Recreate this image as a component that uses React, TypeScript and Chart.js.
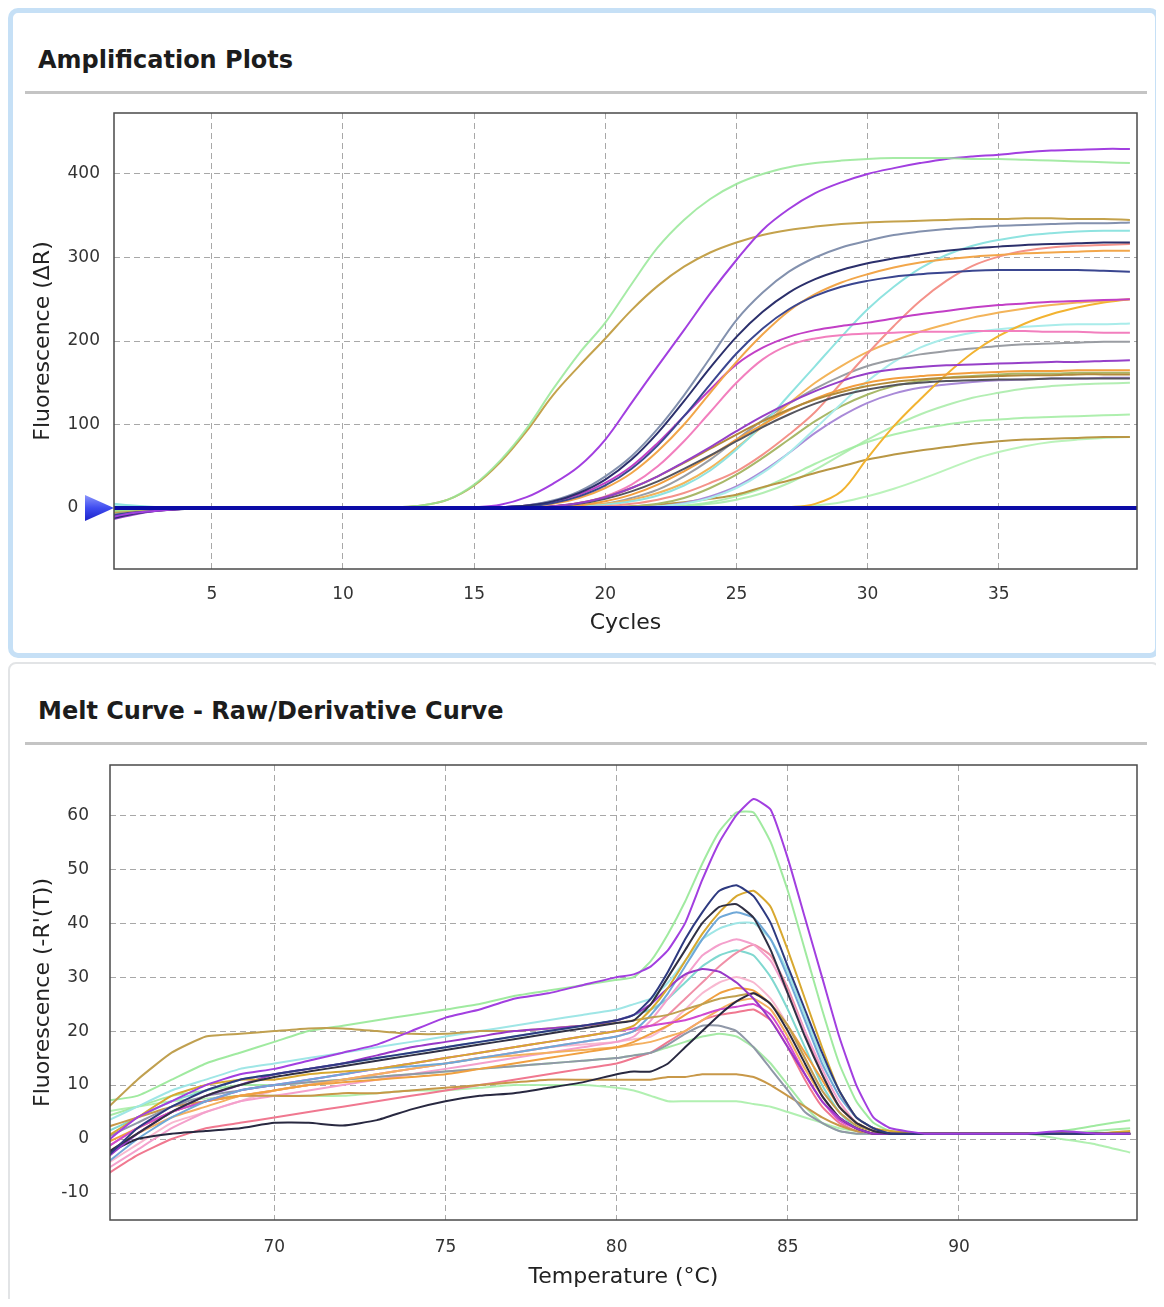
import React, { useEffect, useRef } from "react";
import { Chart, registerables } from "chart.js";
Chart.register(...registerables);

const FONT = "'DejaVu Sans', Verdana, sans-serif";

// ---------- Amplification plot data ----------
const CYCLES = [1,2,3,4,5,6,7,8,9,10,11,12,13,14,15,16,17,18,19,20,21,22,23,24,25,26,27,28,29,30,31,32,33,34,35,36,37,38,39,40];
const AMP_X_TICKS = [5, 10, 15, 20, 25, 30, 35];
const AMP_Y_TICKS = [0, 100, 200, 300, 400];
const AMP_X_RANGE = [1.27, 40.27];
const AMP_Y_RANGE = [-73, 473];
const THRESHOLD = 0;

const amp01 = [-4,-2,-1,0,0,0,0,0,0,0, 0,1,3,10,28,57,95,142,185,222, 268,312,345,370,388,400,408,413,416,418, 419,419,419,418,418,417,416,415,414,413];
const amp02 = [-6,-3,-1,0,0,0,0,0,0,0, 0,1,3,10,27,55,92,135,170,203, 237,266,289,306,318,327,333,337,340,342, 343,344,345,346,346,347,347,346,346,345];
const amp03 = [-12,-6,-3,-1,0,0,0,0,0,0, 0,0,0,0,1,4,13,29,50,82, 126,170,213,257,297,333,358,377,390,400, 407,413,418,421,423,426,428,429,430,430];
const amp04 = [-8,-4,-2,-1,0,0,0,0,0,0, 0,0,0,0,0,1,3,9,20,38, 62,95,135,180,225,258,283,300,312,320, 327,331,334,336,338,339,340,341,341,342];
const amp05 = [-14,-7,-3,-1,0,0,0,0,0,0, 0,0,0,0,0,1,3,8,18,34, 58,90,128,168,205,235,258,274,285,293, 299,304,308,311,313,315,316,317,318,318];
const amp06 = [-10,-5,-2,-1,0,0,0,0,0,0, 0,0,0,0,0,1,2,6,14,27, 47,75,110,148,185,215,238,254,265,272, 277,280,282,284,285,285,285,285,284,283];
const amp07 = [-5,-2,-1,0,0,0,0,0,0,0, 0,0,0,0,0,0,2,5,12,24, 42,68,100,138,175,208,236,256,270,280, 288,294,298,301,303,305,306,307,308,308];
const amp08 = [6,3,1,0,0,0,0,0,0,0, 0,0,0,0,0,0,0,1,2,4, 8,15,27,45,70,100,135,170,205,238, 265,287,303,314,321,326,329,331,332,332];
const amp09 = [-9,-4,-2,-1,0,0,0,0,0,0, 0,0,0,0,0,0,0,0,1,2, 5,10,18,30,44,64,88,115,150,185, 218,248,272,290,301,308,312,314,315,316];
const amp10 = [-13,-6,-3,-1,0,0,0,0,0,0, 0,0,0,0,0,1,3,8,16,30, 50,78,110,142,172,192,205,213,218,222, 227,232,236,240,243,245,247,248,249,250];
const amp11 = [-7,-3,-1,0,0,0,0,0,0,0, 0,0,0,0,0,0,0,0,2,5, 10,18,30,48,72,98,125,150,170,187, 200,211,220,228,234,239,243,246,248,250];
const amp12 = [-4,-2,-1,0,0,0,0,0,0,0, 0,0,0,0,0,0,0,0,0,0, 0,0,0,0,0,0,1,5,20,60, 98,130,160,186,206,221,232,240,246,250];
const amp13 = [-11,-5,-2,-1,0,0,0,0,0,0, 0,0,0,0,0,0,0,2,6,14, 28,50,80,115,150,178,195,203,207,209, 210,211,211,212,212,212,211,211,210,210];
const amp14 = [-6,-3,-1,0,0,0,0,0,0,0, 0,0,0,0,0,0,0,0,2,5, 12,22,38,58,82,105,125,143,158,170, 178,184,188,191,194,196,197,198,199,199];
const amp15 = [4,2,1,0,0,0,0,0,0,0, 0,0,0,0,0,0,0,0,0,0, 0,2,5,12,24,42,66,95,125,152, 175,192,203,210,214,217,219,220,220,221];
const amp16 = [-15,-8,-3,-1,0,0,0,0,0,0, 0,0,0,0,0,0,0,2,6,13, 24,38,55,73,92,110,126,140,152,161, 166,169,171,172,173,174,175,175,176,177];
const amp17 = [-8,-4,-2,-1,0,0,0,0,0,0, 0,0,0,0,0,0,0,2,5,11, 20,32,47,63,80,97,112,125,135,142, 147,150,152,153,154,154,155,155,155,155];
const amp18 = [-5,-2,-1,0,0,0,0,0,0,0, 0,0,0,0,0,0,0,2,6,13, 24,38,54,71,88,104,118,130,139,146, 151,154,156,157,158,159,159,160,160,160];
const amp19 = [-10,-5,-2,-1,0,0,0,0,0,0, 0,0,0,0,0,0,0,0,3,8, 16,28,44,62,82,100,117,131,142,150, 155,158,160,162,163,164,164,165,165,165];
const amp20 = [-3,-1,0,0,0,0,0,0,0,0, 0,0,0,0,0,0,0,0,0,0, 2,5,12,24,40,60,82,104,122,136, 146,152,156,158,160,161,161,162,162,162];
const amp21 = [-12,-6,-2,-1,0,0,0,0,0,0, 0,0,0,0,0,0,0,0,0,0, 0,2,6,14,26,44,66,90,110,126, 137,144,148,151,153,154,155,155,156,156];
const amp22 = [2,1,0,0,0,0,0,0,0,0, 0,0,0,0,0,0,0,0,0,0, 0,1,3,7,14,24,38,53,67,79, 88,95,100,104,106,108,109,110,111,112];
const amp23 = [-7,-3,-1,0,0,0,0,0,0,0, 0,0,0,0,0,0,0,0,0,1, 2,4,7,11,16,25,33,42,50,58, 64,69,73,77,80,82,83,84,85,85];
const amp24 = [3,1,0,0,0,0,0,0,0,0, 0,0,0,0,0,0,0,0,0,0, 0,0,0,0,0,0,1,3,7,14, 23,34,46,58,67,74,79,82,84,85];
const amp25 = [1,0,0,0,0,0,0,0,0,0, 0,0,0,0,0,0,0,0,0,0, 0,0,2,5,10,18,30,46,64,82, 98,112,123,132,138,143,146,148,149,150];

const AMP_SERIES = [amp01, amp03, amp02, amp05, amp06, amp04, amp07, amp10, amp16, amp17, amp18, amp19, amp13, amp09, amp08, amp11, amp12, amp14, amp15, amp20, amp21, amp23, amp22, amp24, amp25];
const AMP_COLORS = [
  "rgba(150,232,150,0.85)", "#A23FE0", "#C4A24C", "#2B2F6B", "#3A4690", "#8391AE",
  "#F2A64A", "#C23FC6", "#9640C8", "#55555E", "#B38A3A", "#F29E3E", "#F27FBE",
  "#F4928A", "#8FE3E0", "#F3B45A", "#F2B330", "#9A9DA3", "#A9ECEA", "#A8B868",
  "#A98AD8", "#B99745", "rgba(160,236,160,0.85)", "rgba(170,240,170,0.8)", "rgba(160,234,160,0.8)",
];

// ---------- Melt curve data ----------
const MELT_TEMPS = [65,66,67,68,69,70,71,72,73,74,75,76,77,78,79,80, 80.5,81,81.5,82,82.5,83,83.5,84,84.5,85,85.5,86,86.5,87,87.5,88, 89,90,91,92,93,94,95];
const MELT_X_TICKS = [70, 75, 80, 85, 90];
const MELT_Y_TICKS = [-10, 0, 10, 20, 30, 40, 50, 60];
const MELT_X_RANGE = [65.2, 95.2];
const MELT_Y_RANGE = [-15, 69.3];

const melt01 = [-1,4,7,10,12,13,14.5,16,17.5,20,22.5,24,26,27,28.5,30, 30.5,32,35,40,48,55,60,63,61,52,41,30,19,10,4,2, 1,1,1,1,1.5,1,1];
const melt02 = [7,8,11,14,16,18,20,21,22,23,24,25,26.5,27.5,28.5,29.5, 30,33,38,44,51,57,60.5,60.5,55,46,35,24,14,7,3,1.5, 1,1,1,1,1.5,2.5,3.5];
const melt03 = [-4,2,6,9,11,12,13,14,15,16,17,18,19,20,21,22, 23,26,31,37,42,46,47,45,40,32,24,16,9,4,2,1, 1,1,1,1,1,1,1];
const melt04 = [0,4,8,10,11,11,12,12.5,13,14,15,16,17,18,19,20, 21,24,28,33,38,42,45,46,43,35,26,17,9,4,2,1.5, 1,1,1,1,1,1,1.5];
const melt05 = [-3,1,5,8,10,11.5,12.5,13.5,14.5,15.5,16.5,17.5,18.5,19.5,20.5,21.5, 22,25,30,35,40,43,43.5,41,35,27,19,12,6,3,1.5,1, 1,1,1,1,1,1,1];
const melt06 = [-5,0,4,7,9,10,11,12,13,13.5,14,15,16,17,18,19, 20,23,27,32,37,41,42,41,37,30,22,14,8,4,2,1, 1,1,1,1,1,1,1];
const melt07 = [3,6,9,11,13,14,15,16,17,18,19,20,21,22,23,24, 25,26,29,33,37,39,40,40,37,31,23,15,9,4,2,1, 1,1,1,1,1,1,1];
const melt08 = [-6,-2,2,5,7,8,9,10,11,12,13,14,15,16,17,18, 19,22,26,30,34,36,37,36,33,27,20,13,7,3,1.5,1, 1,1,1,1,1,1,1];
const melt09 = [-2,2,5,7,8,9,10,11,12,13,14,15,16,17,18,19, 20,21,23,26,29,32,34.5,36,34,28,20,12,6,3,1.5,1, 1,1,1,1,1,1,1];
const melt10 = [-4,1,5,8,10,12,13,14,15.5,17,18,19,20,20.5,21,22, 23,25,28,30.5,31.5,31,29,26,22,17,12,7,4,2,1,1, 1,1,1,1,1,1,1];
const melt11 = [-1,2,5,7,8,9,10,10.5,11,11.5,12,13,14,15,16,17, 18,19.5,21,23,25,27,28,27.5,25,21,16,11,6,3,1.5,1, 1,1,1,1,1,1,1];
const melt12 = [5,11,16,19,19.5,20,20.5,20.5,20,19.5,19.5,20,20,20.5,21,21.5, 22,22.5,23,24,25,26,26.5,27,25,21,15,9,5,2.5,1.5,1, 1,1,1,1,1,1,1];
const melt13 = [-3,0,1,1.5,2,3,3,2.5,3.5,5.5,7,8,8.5,9.5,10.5,12, 12.5,12.5,14,17,20,23,25.5,27,25,20,14,8,4,2,1,1, 1,1,1,1,1,1,1];
const melt14 = [-2,2,5,7,9,10,11,12,13,14,15,16,17,18,19,20, 20.5,21,21.5,22,23,24,24.5,25,23,18,12,7,3.5,2,1,1, 1,1,1,1,1,1,1];
const melt15 = [-7,-3,0,2,3,4,5,6,7,8,9,10,11,12,13,14, 15,16,18,20,22,23,23.5,24,22,17,11,6,3,1.5,1,1, 1,1,1,1,1,1,1];
const melt16 = [0,3,6,8,9,10,10.5,11,11.5,12,12.5,13,13.5,14,14.5,15, 15.5,16,17.5,19.5,21,21,20,17,13,9,5,3,1.5,1,1,1, 1,1,1,1,1,1,1];
const melt17 = [2,4,6,7,8,8,8,8.5,8.5,9,9.5,10,10.5,11,11,11, 11,11,11.5,11.5,12,12,12,11.5,10,8,6,4,2.5,1.5,1,1, 1,1,1,1,1,1,1];
const melt18 = [5,6,7,7.5,8,8,8,8,8.5,9,9,9.5,10,10,10,9.5, 9,8,7,7,7,7,7,6.5,6,5,4,3,2,1.5,1,1, 1,1,1,1,0,-1,-2.5];
const melt19 = [-3,1,4,6,8,9,10,11,12,13,14,15,15.5,16,16.5,17, 17.5,18,19,20,22,24,25.5,26,24,19,13,8,4,2,1,1, 1,1,1,1,1,1,1];
const melt20 = [4,6,8,9,10,10,10.5,11,11.5,12,12.5,13,13.5,14,14.5,15, 15.5,16,17,18,19,19.5,19,17,14,10,6,3,1.5,1,1,1, 1,1,1,1,1,1.5,2];
const melt21 = [1,4,7,9,11,12,13,14,15,16,17,18,19,20,21,22, 23,24,26,29,32,34,35,34,30,24,17,10,5,2,1,1, 1,1,1,1,1,1,1];
const melt22 = [-5,-1,3,5,7,9,10,11,12,13,14,15,16,17,17.5,18, 18.5,19,21,24,27,29,30,29,26,21,15,9,5,2,1,1, 1,1,1,1,1,1,1];

const MELT_SERIES = [melt01, melt03, melt05, melt04, melt10, melt13, melt12, melt06, melt14, melt11, melt19, melt16, melt17, melt08, melt09, melt15, melt21, melt07, melt22, melt02, melt20, melt18];
const MELT_COLORS = [
  "#A23FE0", "#2E3A80", "#303044", "#D8A830", "#9838C8", "#282840", "#C0A050",
  "#6FA8D8", "#D048D0", "#F0A040", "#F4B060", "#9098A8", "#C89848", "#F4A0CC",
  "#F090A8", "#F07890", "#80D8D0", "#9FE6E6", "#F8B8D0", "rgba(150,232,150,0.9)",
  "rgba(156,232,156,0.9)", "rgba(168,238,168,0.9)",
];

// ---------- plugin: plot frame + threshold marker ----------
const framePlugin = {
  id: "frame",
  afterDatasetsDraw(chart: any, _args: any, opts: any) {
    const { ctx, chartArea: a } = chart;
    ctx.save();
    if (opts && typeof opts.threshold === "number") {
      const y = chart.scales.y.getPixelForValue(opts.threshold);
      ctx.strokeStyle = "#0B0BA6";
      ctx.lineWidth = 4;
      ctx.beginPath();
      ctx.moveTo(a.left, y);
      ctx.lineTo(a.right, y);
      ctx.stroke();
      const g = ctx.createLinearGradient(0, y - 13, 0, y + 13);
      g.addColorStop(0, "#8A95FB");
      g.addColorStop(0.5, "#3F4CF0");
      g.addColorStop(1, "#1C22C8");
      ctx.fillStyle = g;
      ctx.beginPath();
      ctx.moveTo(a.left, y);
      ctx.lineTo(a.left - 29, y - 13);
      ctx.lineTo(a.left - 29, y + 13);
      ctx.closePath();
      ctx.fill();
    }
    ctx.strokeStyle = "#4a4a4a";
    ctx.lineWidth = 1.5;
    ctx.strokeRect(a.left, a.top, a.right - a.left, a.bottom - a.top);
    ctx.restore();
  },
};

type ChartProps = {
  xs: number[];
  series: number[][];
  colors: string[];
  xRange: number[];
  yRange: number[];
  xTicks: number[];
  yTicks: number[];
  xTitle: string;
  yTitle: string;
  yWidth: number;
  xHeight: number;
  xPad: number;
  yPad: number;
  tension: number;
  threshold?: number;
  width: number;
  height: number;
  zeroLabel?: string;
};

function LineChart(p: ChartProps) {
  const ref = useRef<HTMLCanvasElement>(null);
  useEffect(() => {
    const datasets = p.series.map((s, i) => ({
      data: p.xs.map((x, j) => ({ x, y: s[j] })),
      borderColor: p.colors[i],
      borderWidth: 2,
      pointRadius: 0,
      fill: false,
      tension: p.tension,
      clip: 0,
    }));
    const tickFont = { family: FONT, size: 17 };
    const titleFont = { family: FONT, size: 22 };
    const chart = new Chart(ref.current as HTMLCanvasElement, {
      type: "line",
      data: { datasets } as any,
      options: {
        animation: false,
        responsive: false,
        events: [],
        layout: { padding: { top: 13, right: 13, left: 0, bottom: 0 } },
        plugins: {
          legend: { display: false },
          tooltip: { enabled: false },
          frame: { threshold: p.threshold },
        } as any,
        scales: {
          x: {
            type: "linear",
            min: p.xRange[0],
            max: p.xRange[1],
            afterBuildTicks: (s: any) => {
              s.ticks = p.xTicks.map((v) => ({ value: v }));
            },
            afterFit: (s: any) => {
              s.height = p.xHeight;
              s.paddingLeft = 0;
              s.paddingRight = 0;
            },
            ticks: { font: tickFont, color: "#333", padding: p.xPad, maxRotation: 0, autoSkip: false },
            grid: { color: "#A8A8A8", lineWidth: 1, drawTicks: false },
            border: { display: false, dash: [6, 4] },
            title: { display: true, text: p.xTitle, font: titleFont, color: "#222", padding: { top: 0, bottom: 4 } },
          },
          y: {
            type: "linear",
            min: p.yRange[0],
            max: p.yRange[1],
            afterBuildTicks: (s: any) => {
              s.ticks = p.yTicks.map((v) => ({ value: v }));
            },
            afterFit: (s: any) => {
              s.width = p.yWidth;
              s.paddingTop = 0;
              s.paddingBottom = 0;
            },
            ticks: {
              font: tickFont,
              color: "#333",
              padding: p.yPad,
              autoSkip: false,
              callback: (v: any) => (v === 0 && p.zeroLabel ? p.zeroLabel : String(v)),
            },
            grid: { color: "#A8A8A8", lineWidth: 1, drawTicks: false },
            border: { display: false, dash: [6, 4] },
            title: { display: true, text: p.yTitle, font: titleFont, color: "#222", padding: { top: 10, bottom: 0 } },
          },
        },
      } as any,
      plugins: [framePlugin as any],
    });
    return () => chart.destroy();
  }, []);
  return <canvas ref={ref} width={p.width} height={p.height} style={{ display: "block", width: p.width, height: p.height }} />;
}

export default function App() {
  const titleStyle: React.CSSProperties = {
    position: "absolute",
    left: 30,
    fontFamily: FONT,
    fontWeight: "bold",
    fontSize: 24,
    lineHeight: "28px",
    color: "#1c1c1c",
    whiteSpace: "nowrap",
  };
  return (
    <div style={{ position: "relative", width: 1152, height: 1291, overflow: "hidden" }}>
      <div
        style={{
          position: "absolute",
          left: 0,
          top: 0,
          width: 1152,
          height: 650,
          boxSizing: "border-box",
          border: "5px solid #C6E0F6",
          borderRadius: 10,
          background: "#fff",
        }}
      />
      <div style={{ ...titleStyle, top: 38 }}>Amplification Plots</div>
      <div style={{ position: "absolute", left: 17, top: 83, width: 1122, height: 3, background: "#C4C4C4" }} />
      <div style={{ position: "absolute", left: 12, top: 92 }}>
        <LineChart
          xs={CYCLES}
          series={AMP_SERIES}
          colors={AMP_COLORS}
          xRange={AMP_X_RANGE}
          yRange={AMP_Y_RANGE}
          xTicks={AMP_X_TICKS}
          yTicks={AMP_Y_TICKS}
          xTitle="Cycles"
          yTitle="Fluorescence (ΔR)"
          yWidth={94}
          xHeight={71}
          xPad={15}
          yPad={14}
          tension={0.35}
          threshold={THRESHOLD}
          zeroLabel={"0    "}
          width={1130}
          height={540}
        />
      </div>

      <div
        style={{
          position: "absolute",
          left: 0,
          top: 654,
          width: 1152,
          height: 700,
          boxSizing: "border-box",
          border: "2px solid #E2E4E6",
          borderRadius: 8,
          background: "#fff",
        }}
      />
      <div style={{ ...titleStyle, top: 689 }}>Melt Curve - Raw/Derivative Curve</div>
      <div style={{ position: "absolute", left: 17, top: 734, width: 1122, height: 3, background: "#C4C4C4" }} />
      <div style={{ position: "absolute", left: 12, top: 744 }}>
        <LineChart
          xs={MELT_TEMPS}
          series={MELT_SERIES}
          colors={MELT_COLORS}
          xRange={MELT_X_RANGE}
          yRange={MELT_Y_RANGE}
          xTicks={MELT_X_TICKS}
          yTicks={MELT_Y_TICKS}
          xTitle="Temperature (°C)"
          yTitle="Fluorescence (-R'(T))"
          yWidth={90}
          xHeight={74}
          xPad={17}
          yPad={21}
          tension={0.15}
          width={1130}
          height={542}
        />
      </div>
    </div>
  );
}
